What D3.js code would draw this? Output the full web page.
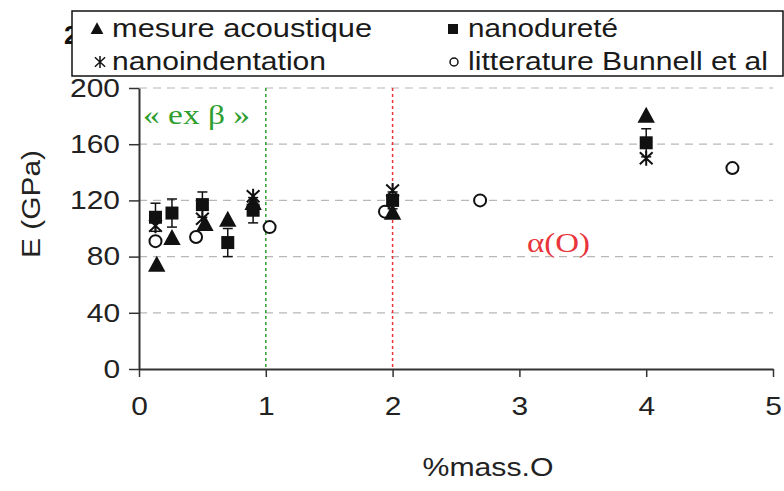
<!DOCTYPE html>
<html><head><meta charset="utf-8">
<script src="https://cdn.jsdelivr.net/npm/d3@7"></script>
<style>body{margin:0;background:#fff}svg{display:block}</style>
</head><body>
<svg id="c" width="784" height="491"></svg>
<script>
// ---- data ----
const xTicks = [0, 1, 2, 3, 4, 5];
const yTicks = [0, 40, 80, 120, 160, 200];
const acoustiqueX = [0.14, 0.26, 0.52, 0.70, 0.90, 2.0, 4.0];
const acoustiqueE = [74, 93, 103, 106, 118, 111, 180];
const nanodureteX = [0.13, 0.26, 0.50, 0.70, 0.90, 2.0, 4.0];
const nanodureteE = [108, 111, 117, 90, 113, 120, 161];
const nanodureteErr = [10, 10, 9, 10, 9, 6, 10];
const nanoindentX = [0.13, 0.50, 0.90, 2.0, 4.0];
const nanoindentE = [102, 107, 123, 127, 150];
const bunnellX = [0.13, 0.45, 1.03, 1.94, 2.69, 4.68];
const bunnellE = [91, 94, 101, 112, 120, 143];
const exBetaX = 1.0, alphaOX = 2.0;
const legendLabels = ["mesure acoustique", "nanodureté", "nanoindentation", "litterature Bunnell et al"];

const svg = d3.select("#c");
const x = d3.scaleLinear().domain([0, 5]).range([139, 773]);
const y = d3.scaleLinear().domain([0, 200]).range([369, 88]);
const FONT = "'Liberation Sans', Arial, sans-serif";
const SERIF = "'Liberation Serif', 'Times New Roman', serif";

function stretch(sel, k) {
  sel.each(function () {
    const l = this.getComputedTextLength();
    this.setAttribute("textLength", l * k);
    this.setAttribute("lengthAdjust", "spacingAndGlyphs");
  });
}

// hidden title fragment behind legend
svg.append("text").attr("x", 64).attr("y", 44).attr("font-family", FONT)
  .attr("font-size", 26).attr("font-weight", "bold").attr("fill", "#111").text("2");

// gridlines
svg.append("g").selectAll("line").data(yTicks.filter(d => d > 0)).join("line")
  .attr("x1", x(0)).attr("x2", x(5)).attr("y1", d => y(d)).attr("y2", d => y(d))
  .attr("stroke", "#b8b8b8").attr("stroke-width", 1.2).attr("stroke-dasharray", "8,6");

// vertical phase lines
svg.append("line").attr("x1", x(exBetaX)).attr("x2", x(exBetaX)).attr("y1", y(200)).attr("y2", y(0))
  .attr("stroke", "#2e9e2e").attr("stroke-width", 1.5).attr("stroke-dasharray", "3,3");
svg.append("line").attr("x1", x(alphaOX)).attr("x2", x(alphaOX)).attr("y1", y(200)).attr("y2", y(0))
  .attr("stroke", "#e8343a").attr("stroke-width", 1.5).attr("stroke-dasharray", "3,3");

// axes
const yAxis = svg.append("g").attr("transform", `translate(${x(0)},0)`)
  .call(d3.axisLeft(y).tickValues(yTicks).tickFormat(d3.format("d")).tickSize(10).tickPadding(9).tickSizeOuter(0));
const xAxis = svg.append("g").attr("transform", `translate(0,${y(0)})`)
  .call(d3.axisBottom(x).tickValues(xTicks).tickFormat(d3.format("d")).tickSize(8).tickPadding(20).tickSizeOuter(0));
[yAxis, xAxis].forEach(a => {
  a.select(".domain").attr("stroke", "#333").attr("stroke-width", 2);
  a.selectAll(".tick line").attr("stroke", "#333").attr("stroke-width", 1.5);
  a.selectAll("text").attr("font-family", FONT).attr("font-size", 26).attr("fill", "#222");
});
stretch(yAxis.selectAll("text"), 1.15);
stretch(xAxis.selectAll("text"), 1.15);

// axis titles
svg.append("text").attr("transform", "translate(40,204) rotate(-90)").attr("text-anchor", "middle")
  .attr("font-family", FONT).attr("font-size", 26).attr("fill", "#222").attr("textLength", 108)
  .attr("lengthAdjust", "spacingAndGlyphs").text("E (GPa)");
svg.append("text").attr("x", 488).attr("y", 476).attr("text-anchor", "middle")
  .attr("font-family", FONT).attr("font-size", 26).attr("fill", "#222").attr("textLength", 131)
  .attr("lengthAdjust", "spacingAndGlyphs").text("%mass.O");

// annotations
svg.append("text").attr("x", 143).attr("y", 124).attr("font-family", SERIF).attr("font-size", 27)
  .attr("fill", "#2e9e2e").attr("textLength", 107).attr("lengthAdjust", "spacingAndGlyphs").text("« ex β »");
svg.append("text").attr("x", 527).attr("y", 252).attr("font-family", SERIF).attr("font-size", 27)
  .attr("fill", "#e8343a").attr("textLength", 63).attr("lengthAdjust", "spacingAndGlyphs").text("α(O)");

// marker helpers
const tri = s => `M0,${-s * 0.62}L${s * 0.58},${s * 0.45}L${-s * 0.58},${s * 0.45}Z`;
const star = s => `M0,${-s}V${s}M${-s * 0.85},${-s * 0.8}L${s * 0.85},${s * 0.8}M${s * 0.85},${-s * 0.8}L${-s * 0.85},${s * 0.8}`;
const mk = (X, Y) => X.map((v, i) => ({ x: v, e: Y[i], i }));

const g = svg.append("g");
// literature circles
g.selectAll(".bun").data(mk(bunnellX, bunnellE)).join("circle")
  .attr("cx", d => x(d.x)).attr("cy", d => y(d.e)).attr("r", 6)
  .attr("fill", "#fff").attr("stroke", "#111").attr("stroke-width", 2);
// error bars for nanodureté
const nd = mk(nanodureteX, nanodureteE);
const eb = g.selectAll(".eb").data(nd).join("g");
eb.append("line").attr("x1", d => x(d.x)).attr("x2", d => x(d.x))
  .attr("y1", d => y(d.e - nanodureteErr[d.i])).attr("y2", d => y(d.e + nanodureteErr[d.i]))
  .attr("stroke", "#111").attr("stroke-width", 1.5);
["-", "+"].forEach(sg => eb.append("line")
  .attr("x1", d => x(d.x) - 5).attr("x2", d => x(d.x) + 5)
  .attr("y1", d => y(d.e + (sg === "+" ? 1 : -1) * nanodureteErr[d.i]))
  .attr("y2", d => y(d.e + (sg === "+" ? 1 : -1) * nanodureteErr[d.i]))
  .attr("stroke", "#111").attr("stroke-width", 1.5));
// acoustique triangles
g.selectAll(".tri").data(mk(acoustiqueX, acoustiqueE)).join("path")
  .attr("transform", d => `translate(${x(d.x)},${y(d.e)})`).attr("d", tri(15)).attr("fill", "#111");
// nanodureté squares
g.selectAll(".sq").data(nd).join("rect")
  .attr("x", d => x(d.x) - 6.5).attr("y", d => y(d.e) - 6.5).attr("width", 13).attr("height", 13).attr("fill", "#111");
// nanoindentation stars
g.selectAll(".st").data(mk(nanoindentX, nanoindentE)).join("path")
  .attr("transform", d => `translate(${x(d.x)},${y(d.e)})`).attr("d", star(7.5))
  .attr("fill", "none").attr("stroke", "#111").attr("stroke-width", 2);

// legend
const lg = svg.append("g");
lg.append("rect").attr("x", 72).attr("y", 11).attr("width", 711).attr("height", 65)
  .attr("fill", "#fff").attr("stroke", "#111").attr("stroke-width", 1.5);
const legPos = [[100, 37, 260], [456, 37, 150], [100, 70, 214], [456, 70, 300]];
legendLabels.forEach((t, i) => {
  const [mx, by, w] = legPos[i];
  lg.append("text").attr("x", mx + 12).attr("y", by).attr("font-family", FONT).attr("font-size", 26)
    .attr("fill", "#1a1a1a").attr("textLength", w).attr("lengthAdjust", "spacingAndGlyphs").text(t);
  const cy = by - 8;
  if (i === 0) lg.append("path").attr("transform", `translate(${mx - 3},${cy})`).attr("d", tri(11)).attr("fill", "#111");
  if (i === 1) lg.append("rect").attr("x", mx - 8).attr("y", cy - 5).attr("width", 10).attr("height", 10).attr("fill", "#111");
  if (i === 2) lg.append("path").attr("transform", `translate(${mx},${cy})`).attr("d", star(6))
    .attr("fill", "none").attr("stroke", "#111").attr("stroke-width", 1.5);
  if (i === 3) lg.append("circle").attr("cx", mx - 2).attr("cy", cy).attr("r", 4).attr("fill", "#fff")
    .attr("stroke", "#111").attr("stroke-width", 1.5);
});
</script>
</body></html>
